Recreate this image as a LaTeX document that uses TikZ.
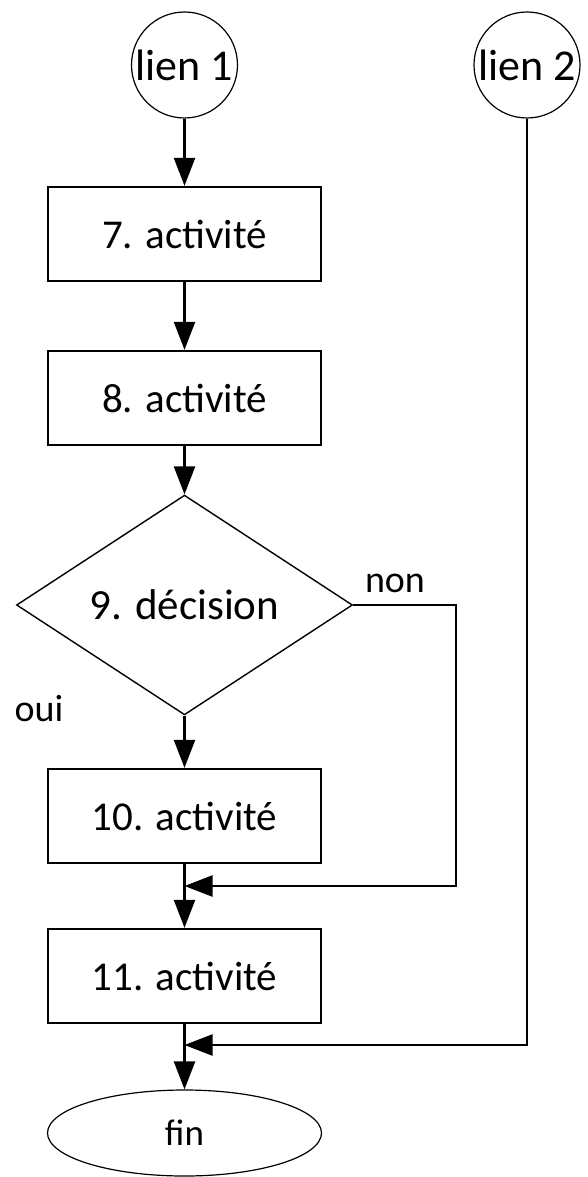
\documentclass[tikz,border=0pt]{standalone}
\usepackage{fontspec}
\setmainfont{Carlito}
\usepackage{tikz}
\usetikzlibrary{shapes.geometric,arrows.meta}

\tikzset{
  activity/.style={draw, line width=1.15pt, minimum width=136.5pt, minimum height=47pt, inner sep=0pt, font=\fontsize{20.5}{24}\selectfont},
  decision/.style={draw, diamond, line width=0.7pt, minimum width=168pt, minimum height=93pt, inner sep=0pt, font=\fontsize{21.5}{25}\selectfont},
  link/.style={draw, circle, line width=0.6pt, minimum size=53pt, inner sep=0pt, font=\fontsize{22}{26}\selectfont},
  terminal/.style={draw, ellipse, line width=0.6pt, minimum width=137pt, minimum height=43pt, inner sep=0pt, font=\fontsize{18.5}{22}\selectfont},
  flow/.style={line width=1.15pt, -{Triangle[length=14pt,width=10.5pt]}},
  answer/.style={font=\fontsize{19}{22}\selectfont}
}

\begin{document}
\begin{tikzpicture}[x=0.5pt, y=-0.5pt]
    % Fix the page to the size of the reference
    \useasboundingbox (0,0) rectangle (588,1177);

    % Define coordinates for the bends and the joins
    \coordinate (non corner) at (456,605);
    \coordinate (first join) at (184.5,886);
    \coordinate (second join) at (184.5,1045);

    % Links, activities, decision and end
    \node[link] (link one) at (184.5,65) {lien 1};
    \node[link] (link two) at (527,65) {lien 2};
    \node[activity] (activity seven) at (184.5,234) {7. activité};
    \node[activity] (activity eight) at (184.5,398) {8. activité};
    \node[decision] (decision nine) at (184.5,605) {9. décision};
    \node[activity] (activity ten) at (184.5,816) {10. activité};
    \node[activity] (activity eleven) at (184.5,976) {11. activité};
    \node[terminal] (end) at (184.5,1133) {fin};

    % Answers of the decision
    \node[answer] (answer no) at (395,583) {non};
    \node[answer] (answer yes) at (39,709) {oui};

    % Main flow
    \draw[flow] (link one) -- (activity seven);
    \draw[flow] (activity seven) -- (activity eight);
    \draw[flow] (activity eight) -- (decision nine);
    \draw[flow] (decision nine) -- (activity ten);
    \draw[flow] (activity ten) -- (activity eleven);
    \draw[flow] (activity eleven) -- (end);

    % Side branches coming back
    \draw[flow] (decision nine.east) -- (non corner) |- (first join);
    \draw[flow] (link two) |- (second join);
\end{tikzpicture}
\end{document}
